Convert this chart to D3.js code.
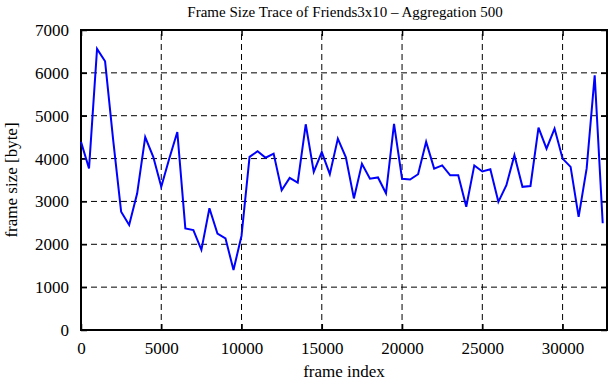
<!DOCTYPE html>
<html>
<head>
<meta charset="utf-8">
<script src="https://cdn.jsdelivr.net/npm/d3@7"></script>
<style>
  body { margin: 0; background: #fff; }
  svg text { font-family: "Liberation Serif", "Times New Roman", serif; fill: #000; }
</style>
</head>
<body>
<svg id="chart" width="611" height="380"></svg>
<script>
// frame size per aggregation window of 500 frames
let frameIndex = d3.range(0, 33000, 500);
let frameSize = [
    4390, 3770, 6560, 6270, 4450, 2760, 2450, 3190, 4500, 4040,
    3340, 4000, 4620, 2370, 2330, 1870, 2840, 2250, 2140, 1400,
    2200, 4040, 4170, 4020, 4115, 3260, 3550, 3440, 4800, 3690,
    4150, 3635, 4465, 4030, 3070, 3880, 3530, 3560, 3190, 4810,
    3530, 3510, 3635, 4390, 3765, 3840, 3610, 3610, 2875, 3840,
    3700, 3750, 2990, 3380, 4080, 3340, 3360, 4720, 4230, 4700,
    4000, 3805, 2640, 3770, 5940, 2490
];
let xTicks = [0, 5000, 10000, 15000, 20000, 25000, 30000];
let yTicks = [0, 1000, 2000, 3000, 4000, 5000, 6000, 7000];

let margin = {left: 81, right: 4, top: 30, bottom: 50};
let width = 611, height = 380;

let svg = d3.select("#chart");

let x = d3.scaleLinear()
    .domain([0, 32767])
    .range([margin.left, width - margin.right]);

let y = d3.scaleLinear()
    .domain([0, 7000])
    .range([height - margin.bottom, margin.top]);

// dashed grid
svg.append("g")
    .selectAll("line")
    .data(xTicks.slice(1))
    .join("line")
    .attr("x1", d => x(d)).attr("x2", d => x(d))
    .attr("y1", y(0)).attr("y2", y(7000))
    .attr("stroke", "#000")
    .attr("stroke-width", 1)
    .attr("stroke-dasharray", "6,4");

svg.append("g")
    .selectAll("line")
    .data(yTicks.slice(1, -1))
    .join("line")
    .attr("x1", x(0)).attr("x2", x(32767))
    .attr("y1", d => y(d)).attr("y2", d => y(d))
    .attr("stroke", "#000")
    .attr("stroke-width", 1)
    .attr("stroke-dasharray", "6,4");

// axes, ticks pointing inward
let xAxis = svg.append("g")
    .attr("transform", `translate(0,${y(0)})`)
    .call(d3.axisBottom(x).tickValues(xTicks).tickSize(-6).tickPadding(12).tickFormat(d3.format("d")));
let xTop = svg.append("g")
    .attr("transform", `translate(0,${y(7000)})`)
    .call(d3.axisTop(x).tickValues(xTicks).tickSize(-6).tickFormat(""));
let yAxis = svg.append("g")
    .attr("transform", `translate(${x(0)},0)`)
    .call(d3.axisLeft(y).tickValues(yTicks).tickSize(-6).tickPadding(12).tickFormat(d3.format("d")));
let yRight = svg.append("g")
    .attr("transform", `translate(${x(32767)},0)`)
    .call(d3.axisRight(y).tickValues(yTicks).tickSize(-6).tickFormat(""));

[xAxis, xTop, yAxis, yRight].forEach(g => {
    g.select(".domain").remove();
    g.selectAll("line").attr("stroke", "#000").attr("stroke-width", 1.5);
    g.selectAll("text").attr("font-size", 17).attr("font-family", "Liberation Serif");
});

// frame
svg.append("rect")
    .attr("x", x(0)).attr("y", y(7000))
    .attr("width", x(32767) - x(0))
    .attr("height", y(0) - y(7000))
    .attr("fill", "none")
    .attr("stroke", "#000")
    .attr("stroke-width", 2);

// trace
let line = d3.line()
    .x((d, i) => x(frameIndex[i]))
    .y(d => y(d));

svg.append("path")
    .datum(frameSize)
    .attr("d", line)
    .attr("fill", "none")
    .attr("stroke", "#0000ff")
    .attr("stroke-width", 2);

// labels
svg.append("text")
    .attr("x", 345).attr("y", 17)
    .attr("text-anchor", "middle")
    .attr("font-size", 15)
    .text("Frame Size Trace of Friends3x10 \u2013 Aggregation 500");

svg.append("text")
    .attr("x", 344).attr("y", 377)
    .attr("text-anchor", "middle")
    .attr("font-size", 17)
    .text("frame index");

svg.append("text")
    .attr("transform", "translate(17,180) rotate(-90)")
    .attr("text-anchor", "middle")
    .attr("font-size", 17)
    .text("frame size [byte]");
</script>
</body>
</html>
